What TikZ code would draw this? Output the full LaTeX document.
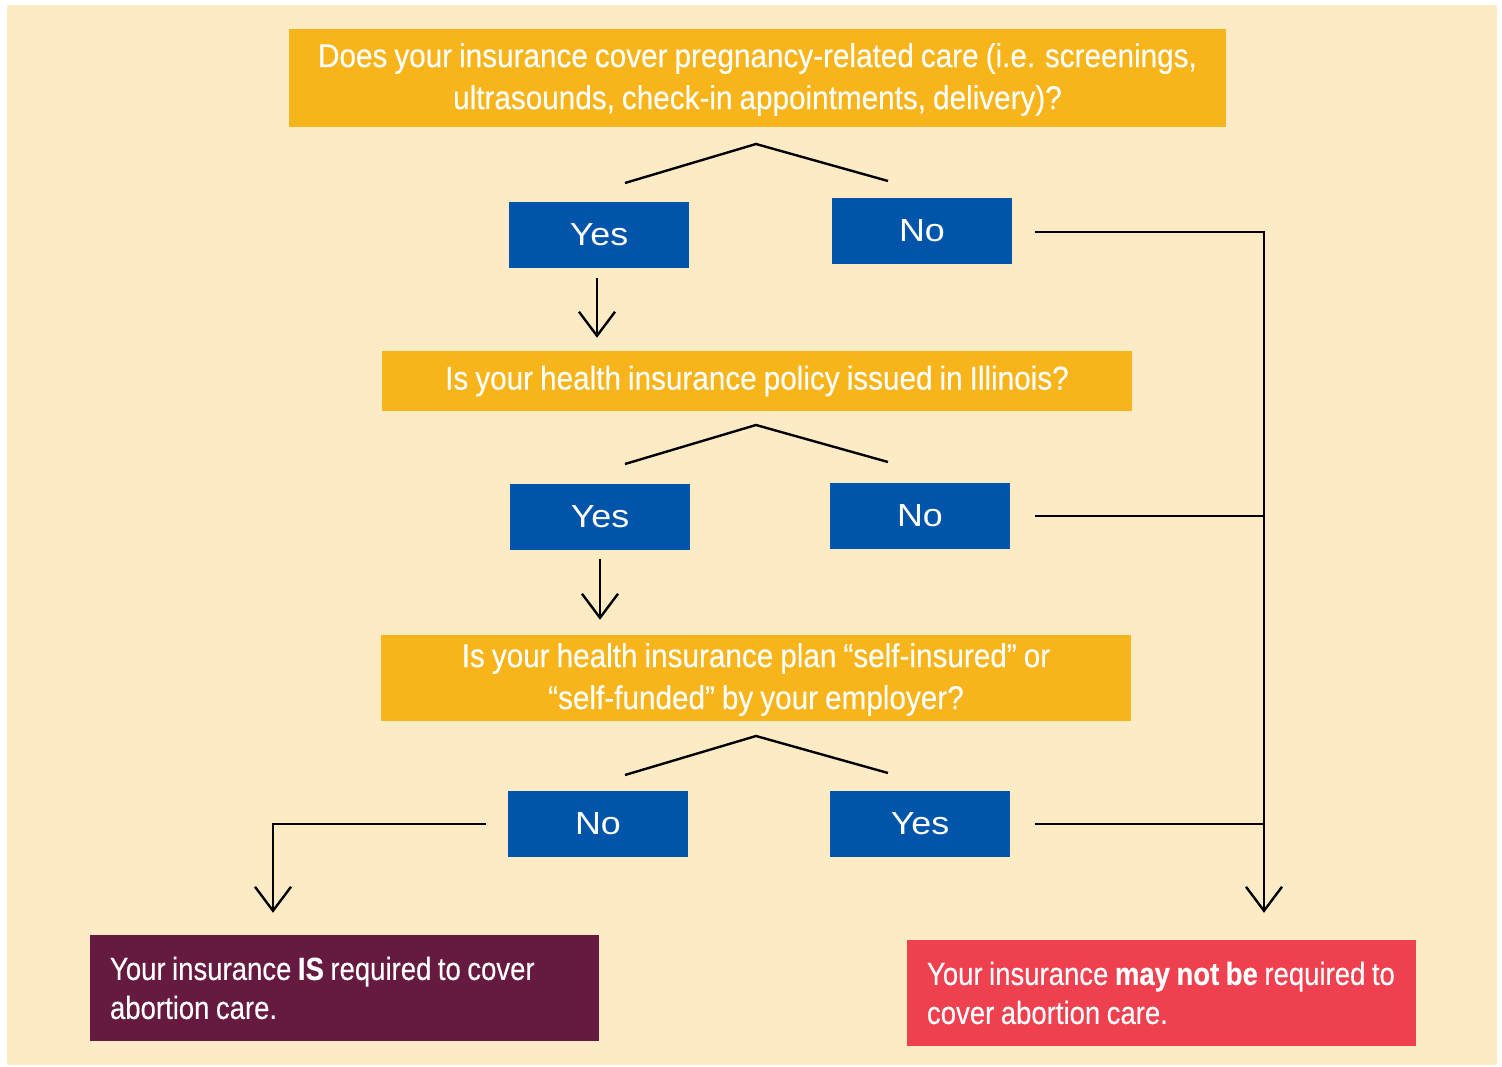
\documentclass[tikz,border=0pt]{standalone}
\usepackage{fontspec}
\setmainfont{Liberation Sans}
\newfontfamily\condfont[FakeStretch=0.9,FakeBold=0.3,WordSpace=0.85]{Liberation Sans}
\newfontfamily\resfont[FakeStretch=0.86,FakeBold=0.3,WordSpace=0.85]{Liberation Sans}
\newfontfamily\widefont[FakeStretch=1.12]{Liberation Sans}
\usetikzlibrary{arrows.meta}
\definecolor{bgcream}{HTML}{FDEBC6}
\definecolor{qgold}{HTML}{F8B41B}
\definecolor{ansblue}{HTML}{0055AA}
\definecolor{isplum}{HTML}{661A40}
\definecolor{notred}{HTML}{EF4050}
\begin{document}
\begin{tikzpicture}[x=1pt,y=-1pt]
\tikzstyle{question}=[fill=qgold, text=white, inner sep=0pt, align=center, minimum width=750pt,
  font=\condfont\fontsize{33}{42}\selectfont]
\tikzstyle{answer}=[fill=ansblue, text=white, inner sep=0pt, minimum width=180pt, minimum height=66pt,
  font=\widefont\fontsize{32}{36}\selectfont]
\tikzstyle{result}=[text=white, inner xsep=20pt, inner ysep=0pt, text width=469pt, minimum height=106pt,
  align=flush left, font=\resfont\fontsize{32}{39}\selectfont]
\tikzstyle{line}=[line width=2.4pt, black]
\tikzstyle{flow}=[line, -{Straight Barb[length=24pt,width=36pt]}]
\useasboundingbox (0,0) rectangle (1502,1067);
\fill [white] (0,0) rectangle (1502,1067);
\fill [bgcream] (7,5) rectangle (1497,1065);
% questions
\node [question, minimum width=937pt, minimum height=98pt] (q1) at (757.5,78)
  {\rule{0pt}{27pt}Does your insurance cover pregnancy-related care (i.e. screenings,\\ultrasounds, check-in appointments, delivery)?};
\node [question, minimum height=60pt] (q2) at (757,381) {Is your health insurance policy issued in Illinois?};
\node [question, minimum height=86pt] (q3) at (756,678)
  {\rule{0pt}{27pt}Is your health insurance plan “self-insured” or\\“self-funded” by your employer?};
% answers
\node [answer] (yes1) at (599,235) {Yes};
\node [answer] (no1) at (922,231) {No};
\node [answer] (yes2) at (600,517) {Yes};
\node [answer] (no2) at (920,516) {No};
\node [answer] (no3) at (598,824) {No};
\node [answer] (yes3) at (920,824) {Yes};
% results
\node [result, fill=isplum] (covered) at (344.5,988)
  {Your insurance \textbf{IS} required to cover\\abortion care.};
\node [result, fill=notred] (maynot) at (1161.5,993)
  {Your insurance \textbf{may not be} required to\\cover abortion care.};
% forks
\draw [line] (625,183) -- (756,144) -- (888,181);
\draw [line] (625,464) -- (756,425) -- (888,462);
\draw [line] (625,775) -- (756,736) -- (888,773);
% downward arrows
\draw [flow] ([xshift=-2pt,yshift=-10pt]yes1.south) -- ([xshift=-2pt,yshift=13pt]yes1.south |- q2.north);
\draw [flow] ([yshift=-9pt]yes2.south) -- ([yshift=15pt]yes2.south |- q3.north);
\coordinate (lcorner) at (273,824);
\draw [flow] ([xshift=-22pt]no3.west) -- (lcorner) -- ([yshift=22pt]lcorner |- covered.north);
% right rail
\coordinate (rtop) at (1264,232);
\draw [flow] ([xshift=23pt]no1.east |- rtop) -- (rtop) -- ([yshift=27pt]rtop |- maynot.north);
\draw [line] ([xshift=25pt]no2.east) -- (rtop |- no2.east);
\draw [line] ([xshift=25pt]yes3.east) -- (rtop |- yes3.east);
\end{tikzpicture}
\end{document}
